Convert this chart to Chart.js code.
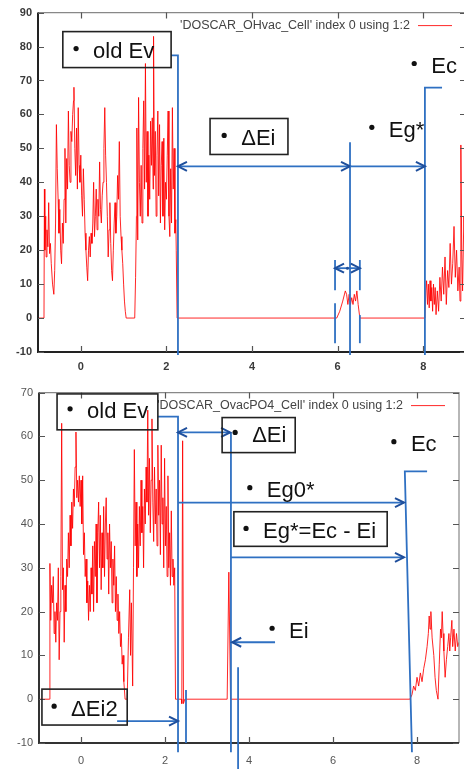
<!DOCTYPE html>
<html>
<head>
<meta charset="utf-8">
<script src="https://cdn.jsdelivr.net/npm/chart.js@4.4.0/dist/chart.umd.min.js"></script>
<style>
  html, body { margin: 0; padding: 0; background: #fff; overflow: hidden; }
  #wrap { position: relative; width: 464px; height: 769px; overflow: hidden; }
  #topChart { position: absolute; left: 0; top: 0; }
  #bottomChart { position: absolute; left: 0; top: 380px; }
</style>
</head>
<body>
<div id="wrap">
  <canvas id="topChart" width="470" height="380"></canvas>
  <canvas id="bottomChart" width="464" height="389"></canvas>
</div>
<script>
const energyTicks = [0, 2, 4, 6, 8];
const topDosTicks = [-10, 0, 10, 20, 30, 40, 50, 60, 70, 80, 90];
const bottomDosTicks = [-10, 0, 10, 20, 30, 40, 50, 60, 70];
const topSeriesLabel = "'DOSCAR_OHvac_Cell' index 0 using 1:2";
const bottomSeriesLabel = "'DOSCAR_OvacPO4_Cell' index 0 using 1:2";

// DOS of the OH-vacancy cell
const topEnergy = [
  -1.00, -0.86, -0.85, -0.84, -0.82, -0.81, -0.79, -0.77, -0.75, -0.73,
  -0.71, -0.69, -0.66, -0.63, -0.61, -0.59, -0.57, -0.55, -0.53, -0.51,
  -0.49, -0.47, -0.45, -0.43, -0.41, -0.39, -0.37, -0.35, -0.33, -0.31,
  -0.29, -0.27, -0.25, -0.23, -0.21, -0.19, -0.17, -0.16, -0.14, -0.12,
  -0.10, -0.08, -0.06, -0.04, -0.02, 0.00, 0.02, 0.04, 0.06, 0.08,
  0.10, 0.12, 0.14, 0.16, 0.18, 0.20, 0.22, 0.24, 0.26, 0.28,
  0.30, 0.32, 0.34, 0.36, 0.38, 0.40, 0.42, 0.44, 0.46, 0.48,
  0.50, 0.52, 0.54, 0.56, 0.58, 0.60, 0.62, 0.64, 0.66, 0.68,
  0.70, 0.72, 0.74, 0.76, 0.78, 0.80, 0.82, 0.84, 0.86, 0.88,
  0.90, 0.92, 0.94, 0.96, 0.98, 1.00, 1.02, 1.04, 1.06, 1.26,
  1.28, 1.30, 1.31, 1.33, 1.35, 1.37, 1.39, 1.41, 1.43, 1.45,
  1.47, 1.49, 1.51, 1.53, 1.55, 1.57, 1.59, 1.61, 1.63, 1.65,
  1.67, 1.69, 1.70, 1.72, 1.74, 1.76, 1.78, 1.80, 1.82, 1.84,
  1.86, 1.88, 1.90, 1.92, 1.94, 1.96, 1.98, 2.00, 2.02, 2.04,
  2.06, 2.08, 2.10, 2.12, 2.14, 2.16, 2.18, 2.20, 2.22, 2.23,
  2.25, 5.98, 6.05, 6.12, 6.18, 6.21, 6.24, 6.27, 6.30, 6.33,
  6.36, 6.39, 6.42, 6.45, 6.48, 6.52, 8.04, 8.06, 8.08, 8.10,
  8.12, 8.14, 8.16, 8.18, 8.20, 8.22, 8.24, 8.26, 8.28, 8.30,
  8.33, 8.36, 8.39, 8.42, 8.45, 8.48, 8.51, 8.54, 8.57, 8.60,
  8.63, 8.66, 8.69, 8.72, 8.75, 8.78, 8.81, 8.84, 8.86, 8.88,
  8.90, 8.92, 8.95, 9.00
];
const topDos = [
  0, 0, 38, 20, 30, 18, 26, 21, 34, 19,
  22, 16, 10, 7, 14, 28, 57, 44, 35, 25,
  32, 20, 16, 28, 22, 35, 50, 28, 47, 38,
  61, 45, 40, 55, 52, 60, 64, 68, 50, 42,
  56, 38, 62, 45, 40, 48, 36, 30, 44, 35,
  25, 20, 15, 11, 20, 24, 18, 25, 22, 28,
  40, 24, 30, 38, 26, 35, 30, 46, 32, 28,
  36, 40, 50, 62, 48, 40, 30, 18, 26, 34,
  22, 14, 11, 20, 28, 34, 25, 30, 42, 35,
  52, 30, 24, 20, 16, 10, 5, 2, 0, 0,
  12, 30, 56, 23, 65, 40, 30, 45, 28, 50,
  64, 38, 75, 40, 55, 30, 48, 35, 58, 45,
  59, 38, 83, 42, 55, 30, 48, 61, 36, 57,
  28, 45, 52, 30, 53, 26, 40, 35, 48, 61,
  30, 24, 44, 28, 62, 38, 50, 25, 29, 20,
  0, 0, 2, 5, 8, 7, 4, 7, 4, 6,
  4, 7, 5, 8, 4, 0, 0, 8, 11, 4,
  10, 3, 11, 5, 9, 2, 10, 4, 9, 1,
  8, 2, 12, 5, 15, 7, 18, 4, 14, 9,
  22, 10, 16, 27, 12, 20, 8, 15, 5, 51,
  20, 8, 30, 15
];

// DOS of the O-vacancy PO4 cell
const bottomEnergy = [
  -1.00, -0.75, -0.74, -0.72, -0.70, -0.68, -0.66, -0.64, -0.62, -0.60,
  -0.58, -0.56, -0.54, -0.52, -0.50, -0.48, -0.46, -0.44, -0.42, -0.40,
  -0.38, -0.36, -0.34, -0.32, -0.30, -0.28, -0.26, -0.24, -0.22, -0.20,
  -0.18, -0.16, -0.14, -0.12, -0.10, -0.08, -0.06, -0.04, -0.02, 0.00,
  0.02, 0.04, 0.06, 0.08, 0.10, 0.12, 0.14, 0.16, 0.18, 0.20,
  0.22, 0.24, 0.26, 0.28, 0.30, 0.32, 0.34, 0.36, 0.38, 0.40,
  0.42, 0.44, 0.46, 0.48, 0.50, 0.52, 0.54, 0.56, 0.58, 0.60,
  0.62, 0.64, 0.66, 0.68, 0.70, 0.72, 0.74, 0.76, 0.78, 0.80,
  0.82, 0.84, 0.86, 0.88, 0.90, 0.92, 0.94, 0.96, 0.98, 1.00,
  1.02, 1.05, 1.10, 1.13, 1.16, 1.18, 1.20, 1.23, 1.25, 1.27,
  1.29, 1.31, 1.33, 1.35, 1.37, 1.39, 1.41, 1.43, 1.45, 1.47,
  1.49, 1.51, 1.53, 1.55, 1.57, 1.59, 1.61, 1.63, 1.65, 1.67,
  1.69, 1.71, 1.73, 1.75, 1.77, 1.79, 1.81, 1.83, 1.85, 1.87,
  1.89, 1.91, 1.93, 1.95, 1.97, 1.99, 2.01, 2.03, 2.05, 2.07,
  2.09, 2.11, 2.13, 2.15, 2.17, 2.19, 2.21, 2.23, 2.25, 2.39,
  2.40, 2.42, 2.44, 2.47, 3.48, 3.52, 3.56, 7.83, 7.88, 7.92,
  7.96, 8.00, 8.04, 8.08, 8.12, 8.16, 8.20, 8.24, 8.27, 8.29,
  8.31, 8.33, 8.36, 8.40, 8.43, 8.46, 8.50, 8.53, 8.56, 8.58,
  8.60, 8.62, 8.64, 8.67, 8.70, 8.73, 8.76, 8.78, 8.80, 8.83,
  8.85, 8.88, 8.91, 8.94, 8.97, 9.00
];
const bottomDos = [
  0, 0, 31, 18, 26, 22, 28, 15, 20, 13,
  22, 18, 30, 9, 20, 28, 63, 25, 30, 13,
  26, 20, 32, 28, 38, 30, 42, 35, 45, 39,
  48, 44, 53, 61, 46, 50, 45, 51, 44, 50,
  40, 51, 33, 38, 28, 32, 22, 27, 18, 26,
  20, 30, 24, 35, 20, 36, 28, 40, 22, 38,
  45, 30, 42, 25, 38, 30, 44, 28, 40, 46,
  32, 38, 24, 40, 30, 36, 22, 32, 26, 35,
  20, 28, 18, 24, 15, 20, 12, 15, 8, 10,
  4, 0, 0, 14, 25, 10, 22, 3, 30, 57,
  35, 45, 28, 40, 30, 44, 35, 50, 38, 44,
  30, 48, 40, 53, 45, 66, 42, 55, 38, 50,
  64, 45, 36, 53, 40, 48, 35, 58, 42, 50,
  33, 58, 40, 46, 30, 55, 35, 44, 28, 51,
  30, 38, 26, 43, 28, 32, 26, 30, 0, 0,
  -1, 59, -1, 0, 0, 29, 0, 0, 1, 3,
  2, 5, 3, 6, 4, 7, 9, 12, 15, 19,
  16, 20, 14, 10, 5, 2, 0, 8, 16, 14,
  20, 15, 11, 5, 9, 12, 15, 11, 14, 18,
  12, 16, 11, 15, 12, 13
];

// level markers drawn on top of each panel, in (energy, DOS) units
const topNotes = {
  boxes: [[-0.42, 84.4, 2.11, 73.8], [3.02, 58.8, 4.84, 48.2]],
  labels: [[-0.11, 79.4, 'old Ev'], [3.35, 53.8, 'ΔEi'], [7.79, 75.0, 'Ec'], [6.80, 56.2, 'Eg*']],
  lines: [
    [[2.11, 77.4], [2.27, 77.4], [2.27, -10.9]],
    [[6.29, 51.8], [6.29, -10.9]],
    [[8.44, 67.9], [8.04, 67.9], [8.04, -10.9]],
    [[5.94, 17.1], [5.94, 8.2]],
    [[6.52, 17.1], [6.52, 8.2]],
    [[5.94, 4.4], [5.94, -7.4]],
    [[6.52, 0.9], [6.52, -7.4]]
  ],
  arrows: [
    { from: [2.27, 44.7], to: [6.29, 44.7], both: true },
    { from: [6.29, 44.7], to: [8.04, 44.7], both: false },
    { from: [5.94, 14.7], to: [6.52, 14.7], both: true }
  ],
  dots: [[6.23, 14.7]]
};

const bottomNotes = {
  boxes: [
    [-0.57, 69.7, 1.83, 61.5], [3.36, 64.3, 5.10, 56.3],
    [3.64, 42.8, 7.29, 34.9], [-0.93, 2.3, 1.10, -5.9]
  ],
  labels: [
    [-0.26, 66.3, 'old Ev'], [3.67, 60.9, 'ΔEi'], [7.45, 58.8, 'Ec'],
    [4.02, 48.3, 'Eg0*'], [3.93, 39.0, 'Eg*=Ec - Ei'], [4.55, 16.2, 'Ei'],
    [-0.64, -1.6, 'ΔEi2']
  ],
  lines: [
    [[1.83, 64.5], [2.31, 64.5], [2.31, -12.1]],
    [[3.57, 60.9], [3.57, -12.1]],
    [[8.24, 52.0], [7.71, 52.0], [7.88, -12.1]],
    [[2.50, 2.1], [2.50, -10.0]],
    [[3.74, 7.3], [3.74, -16.5]]
  ],
  arrows: [
    { from: [2.31, 60.9], to: [3.55, 60.9], both: true },
    { from: [2.31, 44.9], to: [7.69, 44.9], both: false },
    { from: [3.57, 32.4], to: [7.69, 32.4], both: false },
    { from: [4.62, 13.0], to: [3.60, 13.0], both: false },
    { from: [0.86, -5.0], to: [2.31, -5.0], both: false }
  ],
  dots: []
};

const BLUE = '#2f70c2';
const HEAD = '#1f4f9c';

function arrowHead(ctx, x, y, dir) {
  ctx.beginPath();
  ctx.moveTo(x - dir * 9, y - 4.5);
  ctx.lineTo(x, y);
  ctx.lineTo(x - dir * 9, y + 4.5);
  ctx.stroke();
}

// gnuplot-like frame, mirrored inward ticks, key and the level markers
function overlay(notes, yTicks, frameDark) {
  return {
    id: 'overlay',
    afterDraw(chart) {
      const { ctx, chartArea: a, scales } = chart;
      const X = v => scales.x.getPixelForValue(v);
      const Y = v => scales.y.getPixelForValue(v);
      ctx.save();

      // frame
      ctx.lineWidth = 1.2;
      ctx.strokeStyle = '#888';
      ctx.beginPath();
      ctx.moveTo(a.left, a.top); ctx.lineTo(a.right, a.top); ctx.lineTo(a.right, a.bottom);
      ctx.stroke();
      ctx.lineWidth = 2;
      ctx.strokeStyle = frameDark;
      ctx.beginPath();
      ctx.moveTo(a.left, a.top); ctx.lineTo(a.left, a.bottom); ctx.lineTo(a.right, a.bottom);
      ctx.stroke();

      // inward ticks on all four sides
      ctx.lineWidth = 1.2;
      ctx.strokeStyle = '#555';
      ctx.beginPath();
      energyTicks.forEach(v => {
        const px = Math.round(X(v)) + 0.5;
        ctx.moveTo(px, a.bottom); ctx.lineTo(px, a.bottom - 6);
        ctx.moveTo(px, a.top); ctx.lineTo(px, a.top + 6);
      });
      yTicks.forEach(v => {
        const py = Math.round(Y(v)) + 0.5;
        ctx.moveTo(a.left, py); ctx.lineTo(a.left + 6, py);
        ctx.moveTo(a.right, py); ctx.lineTo(a.right - 6, py);
      });
      ctx.stroke();

      // key
      const ds = chart.data.datasets[0];
      const ky = a.top + 13;
      ctx.font = '12.5px "Liberation Sans", Arial, sans-serif';
      ctx.fillStyle = '#444';
      ctx.textAlign = 'right';
      ctx.textBaseline = 'middle';
      ctx.fillText(ds.label, a.right - 56, ky);
      ctx.strokeStyle = ds.borderColor;
      ctx.lineWidth = 1;
      ctx.beginPath();
      ctx.moveTo(a.right - 48, ky); ctx.lineTo(a.right - 14, ky);
      ctx.stroke();

      // marker lines
      ctx.strokeStyle = BLUE;
      ctx.lineWidth = 1.8;
      ctx.lineJoin = 'miter';
      notes.lines.forEach(pts => {
        ctx.beginPath();
        pts.forEach((p, i) => {
          const px = X(p[0]), py = Y(p[1]);
          if (i === 0) ctx.moveTo(px, py); else ctx.lineTo(px, py);
        });
        ctx.stroke();
      });

      // arrows
      notes.arrows.forEach(ar => {
        const x1 = X(ar.from[0]), y1 = Y(ar.from[1]);
        const x2 = X(ar.to[0]), y2 = Y(ar.to[1]);
        ctx.strokeStyle = BLUE;
        ctx.lineWidth = 1.8;
        ctx.beginPath();
        ctx.moveTo(x1, y1); ctx.lineTo(x2, y2);
        ctx.stroke();
        ctx.strokeStyle = HEAD;
        ctx.lineWidth = 2;
        const dir = x2 > x1 ? 1 : -1;
        arrowHead(ctx, x2, y2, dir);
        if (ar.both) arrowHead(ctx, x1, y1, -dir);
      });
      ctx.fillStyle = HEAD;
      notes.dots.forEach(d => {
        ctx.beginPath();
        ctx.arc(X(d[0]), Y(d[1]), 1.5, 0, Math.PI * 2);
        ctx.fill();
      });

      // boxes
      ctx.strokeStyle = '#222';
      ctx.lineWidth = 1.6;
      notes.boxes.forEach(b => {
        const x1 = X(b[0]), y1 = Y(b[1]), x2 = X(b[2]), y2 = Y(b[3]);
        ctx.strokeRect(x1, y1, x2 - x1, y2 - y1);
      });

      // bullet labels
      ctx.fillStyle = '#111';
      ctx.font = '22px "Liberation Sans", Arial, sans-serif';
      ctx.textAlign = 'left';
      ctx.textBaseline = 'alphabetic';
      notes.labels.forEach(l => {
        const bx = X(l[0]), by = Y(l[1]);
        ctx.beginPath();
        ctx.arc(bx, by, 2.6, 0, Math.PI * 2);
        ctx.fill();
        ctx.fillText(l[2], bx + 17, by + 9.5);
      });

      ctx.restore();
    }
  };
}

function makeChart(id, opt) {
  const ctx = document.getElementById(id).getContext('2d');
  return new Chart(ctx, {
    type: 'line',
    data: {
      datasets: [{
        label: opt.label,
        data: opt.energy.map((e, i) => ({ x: e, y: opt.dos[i] })),
        borderColor: 'rgba(255, 0, 0, 0.85)',
        borderWidth: 1,
        pointRadius: 0,
        tension: 0
      }]
    },
    options: {
      responsive: false,
      animation: false,
      devicePixelRatio: 1,
      layout: { padding: opt.padding },
      plugins: { legend: { display: false }, tooltip: { enabled: false } },
      scales: {
        x: {
          type: 'linear', min: -1, max: 9,
          afterBuildTicks: s => { s.ticks = energyTicks.map(v => ({ value: v })); },
          afterFit: s => { s.height = opt.xAxisHeight; },
          grid: { display: false, drawTicks: false },
          border: { display: false },
          ticks: { padding: opt.xPad, color: opt.tickColor, font: opt.tickFont, maxRotation: 0, autoSkip: false }
        },
        y: {
          type: 'linear', min: opt.yTicks[0], max: opt.yTicks[opt.yTicks.length - 1],
          afterBuildTicks: s => { s.ticks = opt.yTicks.map(v => ({ value: v })); },
          afterFit: s => { s.width = opt.yAxisWidth; },
          grid: { display: false, drawTicks: false },
          border: { display: false },
          ticks: { padding: 6, color: opt.tickColor, font: opt.tickFont, autoSkip: false }
        }
      }
    },
    plugins: [overlay(opt.notes, opt.yTicks, opt.frameDark)]
  });
}

makeChart('topChart', {
  label: topSeriesLabel, energy: topEnergy, dos: topDos, yTicks: topDosTicks,
  notes: topNotes, padding: { left: 0, right: 4, top: 12, bottom: 0 },
  xAxisHeight: 28, yAxisWidth: 38, xPad: 8,
  tickColor: '#3a3a3a', tickFont: { family: '"Liberation Sans", Arial', size: 11, weight: 'bold' },
  frameDark: '#222'
});

makeChart('bottomChart', {
  label: bottomSeriesLabel, energy: bottomEnergy, dos: bottomDos, yTicks: bottomDosTicks,
  notes: bottomNotes, padding: { left: 0, right: 5, top: 12, bottom: 0 },
  xAxisHeight: 26, yAxisWidth: 39, xPad: 11,
  tickColor: '#555', tickFont: { family: '"Liberation Sans", Arial', size: 11 },
  frameDark: '#333'
});
</script>
</body>
</html>
